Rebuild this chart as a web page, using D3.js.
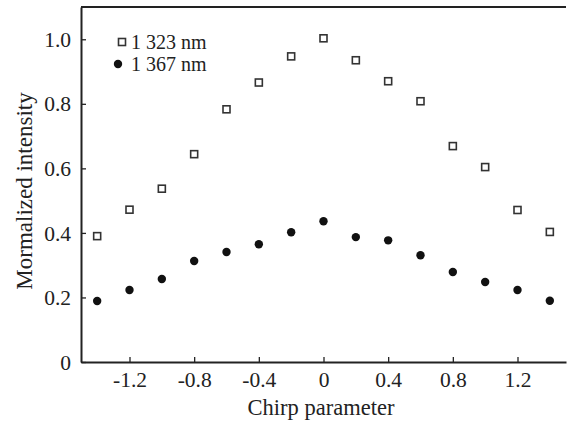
<!DOCTYPE html>
<html>
<head>
<meta charset="utf-8">
<script src="https://cdn.jsdelivr.net/npm/d3@7"></script>
</head>
<body style="margin:0; background:#fff">
<svg id="chart" width="571" height="422"></svg>
<script>
// chirp parameter values
let chirp = [-1.4, -1.2, -1.0, -0.8, -0.6, -0.4, -0.2, 0, 0.2, 0.4, 0.6, 0.8, 1.0, 1.2, 1.4];
// normalized intensity, 1 323 nm (open squares)
let i1323 = [0.39, 0.472, 0.537, 0.644, 0.783, 0.866, 0.947, 1.003, 0.935, 0.87, 0.808, 0.669, 0.604, 0.471, 0.403];
// normalized intensity, 1 367 nm (filled circles)
let i1367 = [0.189, 0.223, 0.257, 0.313, 0.341, 0.365, 0.402, 0.436, 0.387, 0.377, 0.331, 0.279, 0.248, 0.223, 0.19];
let xTicks = [-1.2, -0.8, -0.4, 0, 0.4, 0.8, 1.2];
let yTicks = [0, 0.2, 0.4, 0.6, 0.8, 1.0];
let legendLabels = ["1 323 nm", "1 367 nm"];

let serif = "'Liberation Serif'";
let svg = d3.select("#chart");
let plotLeft = 81, plotRight = 566, plotTop = 7, plotBottom = 362;

let x = d3.scaleLinear().domain([-1.5, 1.5]).range([plotLeft, plotRight]);
let y = d3.scaleLinear().domain([0, 1.1]).range([plotBottom, plotTop]);

// axes, ticks pointing inward
let fmt = d => d === 0 ? "0" : d3.format(".1f")(d).replace("−", "-");
let xAxis = d3.axisBottom(x).tickValues(xTicks).tickSizeInner(-5).tickSizeOuter(0).tickFormat(fmt);
let yAxis = d3.axisLeft(y).tickValues(yTicks).tickSizeInner(-5).tickSizeOuter(0).tickFormat(fmt);

let gx = svg.append("g").attr("transform", "translate(0," + plotBottom + ")").call(xAxis);
let gy = svg.append("g").attr("transform", "translate(" + plotLeft + ",0)").call(yAxis);

[gx, gy].forEach(g => {
  g.select(".domain").attr("stroke", "#222").attr("stroke-width", 2);
  g.selectAll(".tick line").attr("stroke", "#222").attr("stroke-width", 1.3);
  g.selectAll(".tick text").style("font-family", serif).attr("font-size", 21.5).attr("fill", "#222");
});
gx.selectAll(".tick text").attr("dy", null).attr("y", 25);
gy.selectAll(".tick text").attr("x", -10).attr("dy", "0.33em");

// top frame line
svg.append("line")
  .attr("x1", plotLeft).attr("x2", plotRight)
  .attr("y1", plotTop).attr("y2", plotTop)
  .attr("stroke", "#222").attr("stroke-width", 2);

// 1 323 nm squares
svg.append("g").selectAll("rect")
  .data(chirp)
  .join("rect")
  .attr("x", (d, i) => x(d) - 3.5)
  .attr("y", (d, i) => y(i1323[i]) - 3.5)
  .attr("width", 7).attr("height", 7)
  .attr("fill", "#fff").attr("stroke", "#333").attr("stroke-width", 1.6);

// 1 367 nm circles
svg.append("g").selectAll("circle")
  .data(chirp)
  .join("circle")
  .attr("cx", d => x(d))
  .attr("cy", (d, i) => y(i1367[i]))
  .attr("r", 4.2)
  .attr("fill", "#111");

// legend
let lg = svg.append("g");
lg.append("rect").attr("x", 118.5).attr("y", 38.5).attr("width", 7).attr("height", 7)
  .attr("fill", "#fff").attr("stroke", "#333").attr("stroke-width", 1.6);
lg.append("circle").attr("cx", 118).attr("cy", 64).attr("r", 4.2).attr("fill", "#111");
lg.selectAll("text")
  .data(legendLabels)
  .join("text")
  .attr("x", 131)
  .attr("y", (d, i) => 48.5 + i * 22.5)
  .style("font-family", serif)
  .attr("font-size", 20)
  .attr("fill", "#222")
  .text(d => d);

// axis titles
svg.append("text")
  .attr("x", 321).attr("y", 415)
  .attr("text-anchor", "middle")
  .style("font-family", serif)
  .attr("font-size", 22.5)
  .attr("fill", "#222")
  .text("Chirp parameter");

svg.append("text")
  .attr("transform", "translate(32,191) rotate(-90)")
  .attr("text-anchor", "middle")
  .style("font-family", serif)
  .attr("font-size", 23)
  .attr("fill", "#222")
  .text("Mormalized intensity");
</script>
</body>
</html>
